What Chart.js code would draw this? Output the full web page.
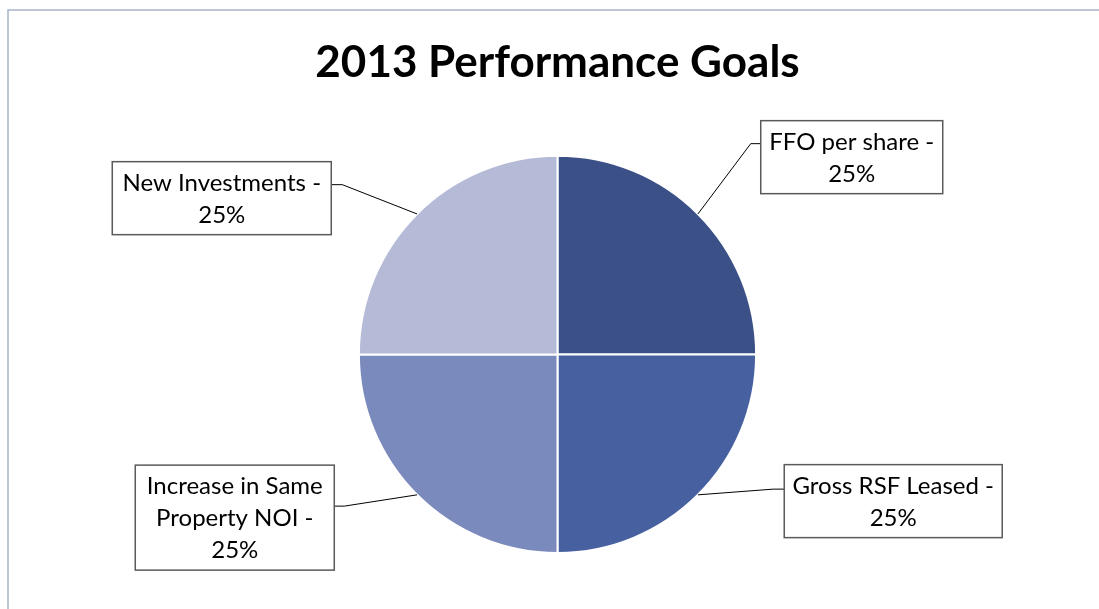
<!DOCTYPE html>
<html>
<head>
<meta charset="utf-8">
<script src="https://cdn.jsdelivr.net/npm/chart.js@4/dist/chart.umd.min.js"></script>
<style>
  html, body { margin: 0; padding: 0; background: #ffffff; }
  #wrap { width: 1099px; height: 609px; position: relative; }
</style>
</head>
<body>
<div id="wrap"><canvas id="c" width="1099" height="609"></canvas></div>
<script>
const chartTitle = '2013 Performance Goals';
const categories = ['FFO per share', 'Gross RSF Leased', 'Increase in Same Property NOI', 'New Investments'];
const shares = [25, 25, 25, 25];
const sliceColors = ['#3A5087', '#4660A0', '#7B8ABD', '#B5BAD7'];

// callout box layout, relative to the slice's outer mid-point anchor
const calloutLayout = [
  { side: 'right', dx: 62.8, dy: -93.3, w: 182, h: 73, elbowGap: 10, elbowY: 23 },
  { side: 'right', dx: 86.3, dy: -30.2, w: 218, h: 73, elbowGap: 11, elbowY: 24.5 },
  { side: 'left', dx: -82.8, dy: -29.7, w: 199, h: 105, elbowGap: 10, elbowY: 41 },
  { side: 'left', dx: -85.8, dy: -52.3, w: 219, h: 73, elbowGap: 11, elbowY: 23 }
];

const FONT = '"Lato", "Liberation Sans", sans-serif';

const framePlugin = {
  id: 'frame',
  beforeDraw(chart) {
    const ctx = chart.ctx;
    ctx.save();
    ctx.fillStyle = '#ffffff';
    ctx.fillRect(0, 0, chart.width, chart.height);
    ctx.strokeStyle = '#A8B4C8';
    ctx.lineWidth = 1.5;
    ctx.beginPath();
    ctx.moveTo(8, chart.height);
    ctx.lineTo(8, 10);
    ctx.lineTo(chart.width, 10);
    ctx.stroke();
    ctx.restore();
  }
};

function wrapText(ctx, text, maxW) {
  const words = text.split(' ');
  const lines = [];
  let cur = '';
  for (const w of words) {
    const test = cur ? cur + ' ' + w : w;
    if (ctx.measureText(test).width > maxW && cur) {
      lines.push(cur);
      cur = w;
    } else {
      cur = test;
    }
  }
  if (cur) lines.push(cur);
  return lines;
}

const calloutPlugin = {
  id: 'callouts',
  afterDatasetsDraw(chart) {
    const ctx = chart.ctx;
    const meta = chart.getDatasetMeta(0);
    const data = chart.data.datasets[0].data;
    const total = data.reduce((a, b) => a + b, 0);
    ctx.save();
    ctx.font = '24px ' + FONT;
    meta.data.forEach((arc, i) => {
      const p = arc.getProps(['x', 'y', 'startAngle', 'endAngle', 'outerRadius'], true);
      const mid = (p.startAngle + p.endAngle) / 2;
      const ax = p.x + Math.cos(mid) * p.outerRadius;
      const ay = p.y + Math.sin(mid) * p.outerRadius;
      const L = calloutLayout[i];
      const top = ay + L.dy;
      let left, edgeX, elbowX;
      if (L.side === 'right') {
        left = ax + L.dx;
        edgeX = left;
        elbowX = left - L.elbowGap;
      } else {
        left = ax + L.dx - L.w;
        edgeX = ax + L.dx;
        elbowX = edgeX + L.elbowGap;
      }
      const ey = top + L.elbowY;
      // leader line
      ctx.strokeStyle = '#000000';
      ctx.lineWidth = 1;
      ctx.beginPath();
      ctx.moveTo(ax, ay);
      ctx.lineTo(elbowX, ey);
      ctx.lineTo(edgeX, ey);
      ctx.stroke();
      // box
      ctx.fillStyle = '#ffffff';
      ctx.fillRect(left, top, L.w, L.h);
      ctx.strokeStyle = '#5A5A5A';
      ctx.lineWidth = 1.5;
      ctx.strokeRect(left, top, L.w, L.h);
      // text
      const pct = Math.round(data[i] / total * 100) + '%';
      const lines = wrapText(ctx, chart.data.labels[i] + ' -', L.w - 6);
      lines.push(pct);
      const lh = 32;
      const startY = top + (L.h - lines.length * lh) / 2 + lh / 2;
      ctx.fillStyle = '#000000';
      ctx.textAlign = 'center';
      ctx.textBaseline = 'middle';
      lines.forEach((ln, k) => {
        ctx.fillText(ln, left + L.w / 2, startY + k * lh + 1);
      });
    });
    ctx.restore();
  }
};

new Chart(document.getElementById('c'), {
  type: 'pie',
  data: {
    labels: categories,
    datasets: [{
      data: shares,
      backgroundColor: sliceColors,
      borderColor: '#ffffff',
      borderWidth: 2
    }]
  },
  options: {
    responsive: false,
    animation: false,
    layout: { padding: { left: 116, right: 100, top: 0, bottom: 55 } },
    plugins: {
      legend: { display: false },
      tooltip: { enabled: false },
      title: {
        display: true,
        text: chartTitle,
        color: '#000000',
        font: { family: FONT, size: 44, weight: 'bold', lineHeight: 1.2 },
        padding: { top: 36, bottom: 66 }
      }
    }
  },
  plugins: [framePlugin, calloutPlugin]
});
</script>
</body>
</html>
